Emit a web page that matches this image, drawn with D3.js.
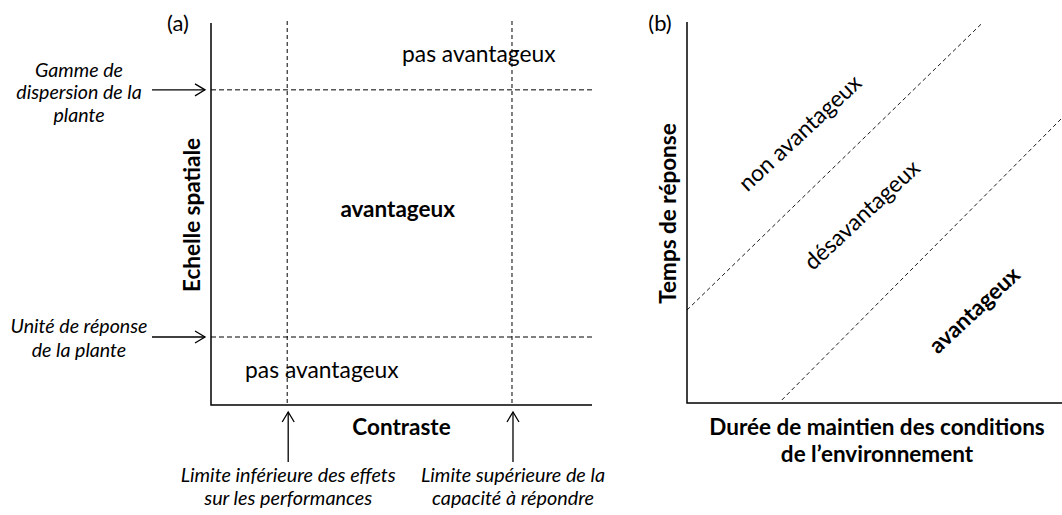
<!DOCTYPE html>
<html>
<head>
<meta charset="utf-8">
<script src="https://cdn.jsdelivr.net/npm/d3@7"></script>
<style>
  body { margin: 0; background: #fff; }
  svg { display: block; font-family: Lato, "Open Sans", sans-serif; }
  .bold { font-weight: 700; }
  .ital { font-style: italic; }
</style>
</head>
<body>
<div id="chart"></div>
<script>
/* DATA */
// panel (a): thresholds on both axes (0-10 units)
const contrastLimits = [2.0, 7.9];
const contrastCaptions = [
  ["Limite inférieure des effets", "sur les performances"],
  ["Limite supérieure de la", "capacité à répondre"]
];
const spatialLimits = [8.25, 1.78];
const spatialCaptions = [
  ["Gamme de", "dispersion de la", "plante"],
  ["Unité de réponse", "de la plante"]
];
const zonesA = [
  { label: "pas avantageux", x: 7.03, y: 9.14, bold: false },
  { label: "avantageux", x: 4.9, y: 5.08, bold: true },
  { label: "pas avantageux", x: 2.91, y: 0.86, bold: false }
];

// panel (b): boundary lines [x, y] in 0-10 units
const boundaries = [
  [[0, 2.44], [7.87, 9.97]],
  [[2.53, 0.08], [10, 7.48]]
];
const zonesB = [
  { label: "non avantageux", x: 3.05, y: 7.05, bold: false },
  { label: "désavantageux", x: 4.7, y: 4.9, bold: false },
  { label: "avantageux", x: 7.7, y: 2.4, bold: true }
];

const width = 1062, height = 515;

const svg = d3.select("#chart").append("svg")
  .attr("width", width)
  .attr("height", height);

function arrowHead(g, x, y, dir) {
  // open chevron, dir: "right" or "up"
  const L = 10, W = 6;
  const pts = dir === "right"
    ? [[x - L, y - W], [x, y], [x - L, y + W]]
    : [[x - W, y + L], [x, y], [x + W, y + L]];
  g.append("path")
    .attr("d", d3.line()(pts))
    .attr("fill", "none")
    .attr("stroke", "#000")
    .attr("stroke-width", 1.3);
}

function multiline(g, lines, x, y, lh, cls, size) {
  const t = g.append("text")
    .attr("class", cls)
    .attr("text-anchor", "middle")
    .attr("font-size", size);
  lines.forEach((l, i) => {
    t.append("tspan").attr("x", x).attr("y", y + i * lh).text(l);
  });
}

/* PANEL A */
const xA = d3.scaleLinear().domain([0, 10]).range([211, 592]);
const yA = d3.scaleLinear().domain([0, 10]).range([405, 23]);
const gA = svg.append("g");

gA.selectAll("line.vlim")
  .data(contrastLimits)
  .join("line")
  .attr("class", "vlim")
  .attr("x1", d => xA(d)).attr("x2", d => xA(d))
  .attr("y1", yA(10) - 2).attr("y2", yA(0))
  .attr("stroke", "#000")
  .attr("stroke-width", 1)
  .attr("stroke-dasharray", "4,3");

gA.selectAll("line.hlim")
  .data(spatialLimits)
  .join("line")
  .attr("class", "hlim")
  .attr("x1", xA(0)).attr("x2", xA(10))
  .attr("y1", d => yA(d)).attr("y2", d => yA(d))
  .attr("stroke", "#000")
  .attr("stroke-width", 1)
  .attr("stroke-dasharray", "5,3");

// axes
gA.append("path")
  .attr("d", d3.line()([[xA(0), yA(10)], [xA(0), yA(0)], [xA(10), yA(0)]]))
  .attr("fill", "none")
  .attr("stroke", "#000")
  .attr("stroke-width", 1.5);

gA.append("text").attr("x", xA(0) - 33).attr("y", 31)
  .attr("text-anchor", "middle").attr("font-size", 22).text("(a)");

gA.append("text").attr("class", "bold")
  .attr("transform", `translate(${xA(0) - 11},${yA(5) + 1}) rotate(-90)`)
  .attr("text-anchor", "middle").attr("font-size", 22.5)
  .text("Echelle spatiale");

gA.append("text").attr("class", "bold")
  .attr("x", xA(5)).attr("y", yA(0) + 30)
  .attr("text-anchor", "middle").attr("font-size", 22.5)
  .text("Contraste");

gA.selectAll("text.zone")
  .data(zonesA)
  .join("text")
  .attr("class", d => d.bold ? "zone bold" : "zone")
  .attr("x", d => xA(d.x)).attr("y", d => yA(d.y))
  .attr("text-anchor", "middle")
  .attr("dominant-baseline", "middle")
  .attr("font-size", d => d.bold ? 22.5 : 22.8)
  .text(d => d.label);

// left arrows + captions
spatialLimits.forEach((v, i) => {
  const y = yA(v);
  gA.append("line").attr("x1", 152).attr("x2", xA(0) - 6)
    .attr("y1", y).attr("y2", y)
    .attr("stroke", "#000").attr("stroke-width", 1.3);
  arrowHead(gA, xA(0) - 6, y, "right");
  const lines = spatialCaptions[i];
  const y0 = lines.length === 3 ? y - 13 : y - 4;
  multiline(gA, lines, 79, y0, lines.length === 3 ? 22.5 : 24, "ital", 19.6);
});

// bottom arrows + captions
contrastLimits.forEach((v, i) => {
  const x = xA(v) + 1;
  gA.append("line").attr("x1", x).attr("x2", x)
    .attr("y1", 462).attr("y2", yA(0) + 7)
    .attr("stroke", "#000").attr("stroke-width", 1.3);
  arrowHead(gA, x, yA(0) + 7, "up");
  multiline(gA, contrastCaptions[i], x, 482, 23, "ital", 19.8);
});

/* PANEL B */
const xB = d3.scaleLinear().domain([0, 10]).range([687, 1062]);
const yB = d3.scaleLinear().domain([0, 10]).range([403, 22]);
const gB = svg.append("g");

gB.selectAll("path.bound")
  .data(boundaries)
  .join("path")
  .attr("class", "bound")
  .attr("d", d3.line().x(d => xB(d[0])).y(d => yB(d[1])))
  .attr("fill", "none")
  .attr("stroke", "#000")
  .attr("stroke-width", 0.9)
  .attr("stroke-dasharray", "4,3");

gB.append("path")
  .attr("d", d3.line()([[xB(0), yB(10)], [xB(0), yB(0)], [xB(10), yB(0)]]))
  .attr("fill", "none")
  .attr("stroke", "#000")
  .attr("stroke-width", 1.5);

gB.append("text").attr("x", xB(0) - 27).attr("y", 31)
  .attr("text-anchor", "middle").attr("font-size", 22).text("(b)");

gB.append("text").attr("class", "bold")
  .attr("transform", `translate(${xB(0) - 11},${yB(5) + 1}) rotate(-90)`)
  .attr("text-anchor", "middle").attr("font-size", 22.5)
  .text("Temps de réponse");

multiline(gB, ["Durée de maintien des conditions", "de l’environnement"],
  877, 435, 27, "bold", 22.5);

gB.selectAll("text.zone")
  .data(zonesB)
  .join("text")
  .attr("class", d => d.bold ? "zone bold" : "zone")
  .attr("transform", d => `translate(${xB(d.x)},${yB(d.y)}) rotate(-43)`)
  .attr("text-anchor", "middle")
  .attr("dominant-baseline", "middle")
  .attr("font-size", d => d.bold ? 22.5 : 22.8)
  .text(d => d.label);
</script>
</body>
</html>
